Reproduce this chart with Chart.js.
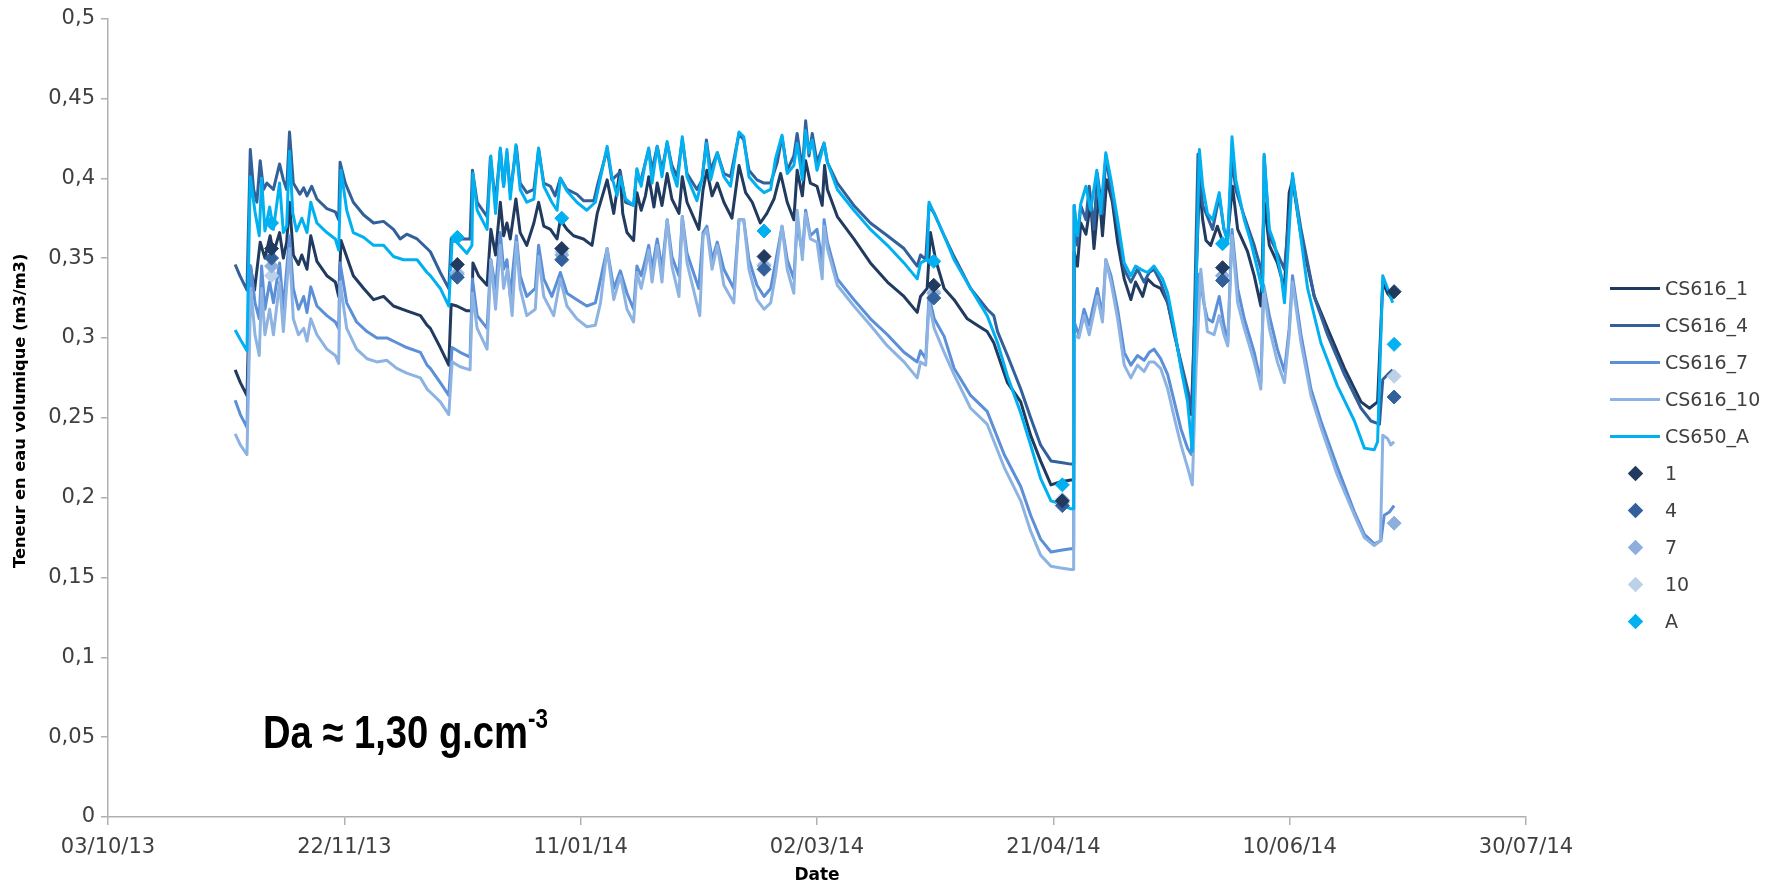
<!DOCTYPE html>
<html lang="fr">
<head>
<meta charset="utf-8">
<title>Teneur en eau volumique</title>
<script src="https://cdn.jsdelivr.net/npm/chart.js@4.4.1/dist/chart.umd.min.js"></script>
<style>
  html, body { margin: 0; padding: 0; background: #ffffff; }
  #wrap { position: relative; width: 1779px; height: 886px; overflow: hidden; }
  #graph { position: absolute; left: 0; top: 0; }
  #legende { position: absolute; left: 1610px; top: 0; width: 169px; height: 886px;
             font-family: 'DejaVu Sans', sans-serif; font-size: 19px; color: #404040; }
  .item { position: absolute; left: 0; height: 24px; display: flex; align-items: center; white-space: nowrap; }
  .sym { position: relative; width: 50px; height: 24px; margin-right: 5px; }
  .trait { position: absolute; left: 0; top: 10.5px; width: 50px; height: 3px; }
  .losange { position: absolute; left: 19.5px; top: 6.5px; width: 11px; height: 11px; transform: rotate(45deg); }
  #da { position: absolute; left: 263px; top: 700px; white-space: nowrap;
        font-family: 'Liberation Sans', sans-serif; font-weight: bold;
        font-size: 46px; line-height: 46px; color: #000000;
        transform: scaleX(0.83); transform-origin: 0 0; }
  #da sup { font-size: 27px; position: relative; top: -4px; }
</style>
</head>
<body>
<div id="wrap">
  <canvas id="graph" width="1779" height="886"></canvas>
  <div id="legende"></div>
  <div id="da">Da ≈ 1,30 g.cm<sup>-3</sup></div>
</div>
<script>
// Axe des temps : jours écoulés depuis le 03/10/13
const dateTicks = ['03/10/13', '22/11/13', '11/01/14', '02/03/14', '21/04/14', '10/06/14', '30/07/14'];
const tickStepDays = 50;

// Sondes en continu : [jour, teneur en eau (m3/m3)]
const cs616_1 = [
  [26.9,0.280],[28.0,0.272],[29.4,0.264],[30.1,0.345],[31.0,0.330],[32.2,0.360],[33.2,0.350],[34.3,0.364],
  [35.0,0.353],[36.3,0.366],[37.1,0.350],[37.8,0.360],[38.4,0.385],[39.2,0.352],[40.3,0.346],[41.0,0.352],
  [42.1,0.343],[42.9,0.364],[44.2,0.348],[46.3,0.339],[48.1,0.335],[48.8,0.326],[49.3,0.361],[51.9,0.339],
  [54.1,0.331],[56.2,0.324],[58.3,0.326],[60.4,0.320],[63.2,0.317],[66.1,0.314],[67.5,0.308],[68.2,0.306],
  [70.3,0.294],[72.1,0.283],[72.6,0.321],[73.8,0.320],[75.9,0.317],[77.0,0.317],[77.2,0.347],[78.4,0.339],
  [80.2,0.333],[81.0,0.368],[82.0,0.352],[83.0,0.385],[83.7,0.364],[84.4,0.372],[85.1,0.362],[86.3,0.387],
  [87.2,0.366],[88.6,0.358],[90.1,0.372],[91.1,0.385],[92.2,0.370],[93.6,0.368],[95.0,0.362],[95.7,0.374],
  [97.1,0.368],[98.5,0.364],[100.6,0.362],[102.4,0.358],[103.5,0.378],[105.6,0.399],[107.0,0.378],[108.3,0.405],
  [108.9,0.378],[109.8,0.366],[111.2,0.361],[111.9,0.391],[112.8,0.380],[113.7,0.389],[114.4,0.401],[115.5,0.382],
  [116.2,0.397],[117.2,0.383],[118.3,0.403],[119.3,0.387],[120.8,0.378],[121.5,0.401],[122.5,0.385],[125.0,0.368],
  [125.9,0.393],[126.7,0.405],[127.8,0.389],[128.9,0.397],[130.3,0.385],[132.0,0.375],[133.5,0.408],[134.9,0.391],
  [136.3,0.385],[138.0,0.372],[139.4,0.378],[140.9,0.387],[142.3,0.403],[143.7,0.385],[145.1,0.374],[145.8,0.405],
  [146.9,0.389],[147.6,0.411],[148.6,0.397],[150.0,0.395],[151.1,0.383],[151.6,0.408],[152.2,0.393],[154.3,0.376],
  [157.8,0.362],[161.3,0.347],[164.9,0.335],[168.4,0.326],[171.2,0.316],[171.9,0.326],[173.3,0.331],[174.0,0.366],
  [175.1,0.349],[176.9,0.331],[179.0,0.324],[181.8,0.312],[183.9,0.308],[186.0,0.304],[187.4,0.297],[190.3,0.272],
  [193.1,0.260],[195.2,0.239],[197.3,0.223],[199.5,0.208],[201.6,0.210],[203.7,0.211],[204.3,0.211],[204.4,0.354],
  [205.1,0.345],[205.8,0.372],[206.9,0.365],[207.9,0.385],[208.6,0.356],[209.7,0.391],[210.4,0.364],[211.3,0.399],
  [212.5,0.385],[213.6,0.360],[215.0,0.337],[216.4,0.324],[217.4,0.335],[218.9,0.326],[219.9,0.337],[221.3,0.333],
  [222.7,0.331],[224.2,0.322],[225.6,0.304],[227.0,0.283],[228.4,0.266],[229.2,0.252],[230.9,0.397],[231.6,0.374],
  [232.3,0.361],[233.3,0.358],[234.7,0.370],[236.1,0.358],[236.9,0.364],[237.9,0.395],[239.0,0.368],[241.1,0.354],
  [242.5,0.339],[243.9,0.320],[244.6,0.385],[245.7,0.358],[247.4,0.347],[248.9,0.331],[249.9,0.391],[250.6,0.399],
  [252.4,0.364],[255.2,0.326],[258.0,0.306],[261.6,0.281],[265.1,0.260],[266.9,0.256],[268.6,0.260],[269.7,0.335],
  [270.7,0.328],[271.8,0.324]
];

const cs616_4 = [
  [26.9,0.346],[27.9,0.339],[29.4,0.330],[30.1,0.418],[30.8,0.393],[31.5,0.385],[32.2,0.411],[32.9,0.393],
  [33.6,0.397],[35.0,0.393],[36.3,0.409],[37.1,0.399],[37.8,0.393],[38.4,0.429],[39.2,0.397],[40.6,0.390],
  [41.4,0.394],[42.1,0.389],[43.1,0.395],[44.2,0.387],[46.3,0.381],[48.1,0.379],[48.8,0.374],[49.1,0.410],
  [50.2,0.397],[51.9,0.385],[54.1,0.377],[56.2,0.372],[58.3,0.373],[60.4,0.368],[61.8,0.362],[63.2,0.365],
  [65.4,0.362],[67.5,0.356],[68.2,0.354],[70.3,0.341],[72.1,0.331],[72.6,0.362],[74.5,0.362],[76.6,0.362],
  [77.1,0.405],[78.1,0.385],[80.2,0.376],[80.9,0.413],[82.0,0.385],[83.0,0.418],[83.7,0.395],[84.4,0.416],
  [85.1,0.391],[86.4,0.420],[87.2,0.397],[88.6,0.391],[90.1,0.393],[91.1,0.418],[92.2,0.397],[93.6,0.395],
  [94.6,0.389],[95.7,0.400],[97.1,0.393],[99.2,0.390],[100.6,0.386],[102.8,0.386],[103.5,0.395],[105.6,0.418],
  [106.6,0.399],[108.4,0.404],[109.5,0.385],[111.2,0.383],[111.9,0.405],[112.6,0.397],[113.7,0.410],[114.4,0.418],
  [115.1,0.405],[116.2,0.420],[117.2,0.405],[118.3,0.422],[119.3,0.408],[120.4,0.401],[121.5,0.424],[122.5,0.403],
  [124.6,0.393],[125.7,0.399],[126.6,0.424],[127.5,0.405],[128.9,0.416],[130.3,0.403],[131.7,0.401],[133.5,0.428],
  [134.5,0.424],[135.6,0.405],[137.3,0.399],[138.8,0.397],[140.2,0.397],[141.6,0.410],[142.6,0.426],[143.7,0.405],
  [145.1,0.414],[145.8,0.428],[146.9,0.405],[147.6,0.436],[148.3,0.414],[149.0,0.428],[150.0,0.410],[151.5,0.422],
  [152.2,0.410],[154.3,0.397],[157.8,0.383],[161.3,0.372],[164.9,0.364],[168.4,0.356],[171.2,0.345],[171.9,0.352],
  [173.0,0.349],[173.7,0.383],[174.8,0.378],[176.9,0.364],[179.0,0.351],[182.5,0.331],[186.0,0.318],[187.4,0.314],
  [188.2,0.304],[190.3,0.289],[193.1,0.268],[195.2,0.250],[197.3,0.233],[199.5,0.223],[201.6,0.222],[203.7,0.221],
  [204.3,0.221],[204.4,0.383],[205.1,0.358],[205.8,0.383],[206.9,0.374],[207.6,0.395],[208.6,0.368],[209.3,0.403],
  [210.4,0.378],[211.1,0.414],[212.2,0.393],[213.6,0.370],[215.0,0.343],[216.4,0.335],[217.8,0.343],[219.2,0.335],
  [220.3,0.341],[221.3,0.343],[222.7,0.335],[224.2,0.322],[225.6,0.302],[227.0,0.285],[228.4,0.268],[229.4,0.254],
  [230.6,0.415],[231.6,0.383],[232.6,0.376],[233.7,0.368],[235.1,0.389],[236.1,0.368],[236.9,0.362],[237.8,0.412],
  [238.6,0.393],[240.4,0.376],[242.5,0.358],[244.3,0.339],[244.6,0.414],[245.7,0.364],[247.4,0.353],[248.9,0.343],
  [249.6,0.368],[250.6,0.401],[252.4,0.368],[255.2,0.326],[258.0,0.302],[261.6,0.277],[265.1,0.256],[267.2,0.248],
  [269.0,0.246],[269.7,0.274],[270.7,0.277],[271.8,0.280]
];

const cs616_7 = [
  [26.9,0.261],[28.0,0.252],[29.4,0.244],[30.2,0.345],[31.1,0.322],[32.0,0.312],[32.5,0.345],[33.2,0.318],
  [34.2,0.335],[35.0,0.322],[36.3,0.347],[37.1,0.318],[38.4,0.364],[39.2,0.331],[40.3,0.318],[41.4,0.326],
  [42.1,0.316],[42.9,0.332],[44.2,0.320],[46.3,0.314],[48.1,0.310],[48.8,0.306],[49.1,0.347],[50.5,0.322],
  [52.6,0.310],[54.8,0.304],[56.9,0.300],[59.0,0.300],[61.1,0.297],[63.2,0.294],[66.1,0.291],[67.5,0.283],
  [68.2,0.281],[70.3,0.272],[72.1,0.264],[72.8,0.294],[74.5,0.291],[76.6,0.288],[77.1,0.337],[78.1,0.314],
  [80.2,0.306],[81.0,0.349],[82.0,0.331],[83.0,0.366],[83.7,0.343],[84.4,0.349],[85.1,0.326],[86.4,0.364],
  [87.2,0.339],[88.6,0.326],[90.4,0.331],[91.1,0.358],[92.2,0.337],[93.9,0.326],[95.7,0.341],[97.1,0.328],
  [99.2,0.324],[101.3,0.320],[103.1,0.322],[103.8,0.331],[105.6,0.356],[107.0,0.331],[108.4,0.342],[109.8,0.328],
  [111.2,0.318],[111.9,0.345],[112.8,0.339],[113.7,0.349],[114.4,0.358],[115.1,0.343],[116.2,0.362],[117.2,0.343],
  [118.3,0.374],[119.3,0.351],[120.8,0.339],[121.5,0.376],[122.5,0.353],[125.0,0.331],[125.9,0.366],[126.7,0.370],
  [127.8,0.349],[128.9,0.360],[130.3,0.343],[132.4,0.331],[133.5,0.374],[134.5,0.374],[135.6,0.349],[137.3,0.333],
  [138.8,0.326],[140.2,0.331],[141.2,0.347],[142.6,0.370],[143.7,0.349],[145.1,0.337],[145.8,0.372],[146.9,0.353],
  [147.6,0.380],[148.6,0.364],[150.0,0.368],[151.1,0.347],[151.5,0.374],[152.2,0.360],[154.3,0.337],[157.8,0.324],
  [161.3,0.312],[164.9,0.302],[168.4,0.291],[171.2,0.285],[171.9,0.292],[173.0,0.287],[173.7,0.326],[174.8,0.312],
  [176.9,0.301],[179.0,0.281],[182.5,0.264],[186.0,0.254],[189.6,0.227],[193.1,0.207],[195.2,0.189],[197.3,0.174],
  [199.5,0.166],[201.6,0.167],[203.7,0.168],[204.3,0.168],[204.4,0.310],[205.4,0.302],[206.5,0.318],[207.6,0.308],
  [208.3,0.318],[209.3,0.331],[210.4,0.314],[211.1,0.349],[212.2,0.339],[213.6,0.318],[215.0,0.291],[216.4,0.283],
  [217.8,0.289],[219.2,0.286],[220.3,0.291],[221.3,0.293],[222.7,0.287],[224.2,0.277],[225.6,0.260],[227.0,0.243],
  [228.4,0.231],[229.2,0.227],[230.2,0.300],[230.9,0.340],[231.9,0.321],[232.6,0.312],[233.7,0.310],[235.1,0.326],
  [236.1,0.308],[236.9,0.297],[237.8,0.368],[239.0,0.331],[240.4,0.312],[242.5,0.291],[243.9,0.272],[244.5,0.333],
  [245.7,0.314],[247.4,0.293],[248.9,0.279],[249.9,0.306],[250.6,0.339],[252.4,0.302],[254.5,0.268],[256.6,0.248],
  [260.1,0.219],[263.7,0.191],[265.8,0.177],[267.9,0.171],[269.3,0.173],[270.0,0.189],[271.1,0.191],[272.1,0.195]
];

const cs616_10 = [
  [26.9,0.240],[28.0,0.233],[29.4,0.227],[30.2,0.331],[31.1,0.302],[32.0,0.289],[32.5,0.331],[33.2,0.302],
  [34.2,0.318],[35.0,0.302],[36.3,0.335],[37.1,0.304],[38.4,0.356],[39.2,0.312],[40.3,0.302],[41.4,0.306],
  [42.1,0.298],[42.9,0.312],[44.2,0.302],[46.3,0.293],[48.1,0.289],[48.8,0.284],[49.1,0.335],[50.5,0.306],
  [52.6,0.293],[54.8,0.287],[56.9,0.285],[59.0,0.286],[61.1,0.281],[63.2,0.278],[66.1,0.275],[67.5,0.268],
  [68.2,0.266],[70.3,0.260],[72.1,0.252],[72.8,0.285],[74.5,0.282],[76.6,0.280],[77.1,0.328],[78.1,0.306],
  [80.2,0.293],[81.0,0.349],[82.0,0.318],[83.0,0.358],[83.7,0.331],[84.5,0.343],[85.5,0.314],[86.4,0.360],
  [87.2,0.331],[88.6,0.314],[90.4,0.318],[91.1,0.351],[92.2,0.326],[94.3,0.314],[95.7,0.337],[97.1,0.320],
  [99.2,0.312],[101.3,0.307],[103.1,0.308],[104.2,0.322],[105.6,0.356],[107.0,0.324],[108.4,0.339],[109.8,0.318],
  [111.2,0.310],[111.9,0.341],[112.8,0.331],[113.7,0.343],[114.4,0.355],[115.1,0.335],[116.2,0.358],[117.2,0.335],
  [118.3,0.374],[119.3,0.345],[120.8,0.326],[121.5,0.376],[122.5,0.347],[125.2,0.314],[125.9,0.364],[126.7,0.368],
  [127.8,0.343],[128.9,0.358],[130.3,0.333],[132.4,0.322],[133.5,0.374],[134.5,0.374],[135.6,0.343],[137.3,0.324],
  [138.8,0.318],[140.2,0.322],[141.2,0.339],[142.6,0.370],[143.7,0.343],[145.1,0.328],[145.8,0.380],[146.9,0.349],
  [147.6,0.378],[148.6,0.362],[150.0,0.360],[151.1,0.337],[151.5,0.370],[152.2,0.356],[154.3,0.333],[157.8,0.320],
  [161.3,0.308],[164.9,0.295],[168.4,0.285],[171.2,0.275],[171.9,0.285],[173.0,0.283],[173.7,0.322],[174.8,0.306],
  [176.9,0.291],[179.0,0.277],[182.5,0.256],[186.0,0.246],[189.6,0.219],[193.1,0.198],[195.2,0.179],[197.3,0.164],
  [199.5,0.157],[201.6,0.156],[203.7,0.155],[204.3,0.155],[204.4,0.302],[205.4,0.300],[206.5,0.314],[207.6,0.302],
  [208.3,0.312],[209.3,0.326],[210.4,0.310],[211.1,0.349],[212.2,0.335],[213.6,0.312],[215.0,0.283],[216.4,0.275],
  [217.8,0.283],[219.2,0.279],[220.3,0.285],[221.3,0.285],[222.7,0.281],[224.2,0.268],[225.6,0.250],[227.0,0.233],
  [228.4,0.219],[229.4,0.208],[230.2,0.280],[231.2,0.343],[231.9,0.322],[232.6,0.304],[234.0,0.302],[235.1,0.314],
  [236.1,0.302],[236.9,0.295],[237.8,0.364],[239.0,0.322],[240.4,0.306],[242.5,0.285],[243.9,0.268],[244.5,0.331],
  [245.7,0.306],[247.4,0.285],[248.9,0.272],[249.9,0.302],[250.6,0.335],[252.4,0.297],[254.5,0.264],[256.6,0.244],
  [260.1,0.214],[263.7,0.189],[265.8,0.175],[267.9,0.170],[269.2,0.173],[269.7,0.239],[270.7,0.237],[271.4,0.233],
  [272.1,0.235]
];

const cs650_A = [
  [26.9,0.305],[28.0,0.299],[29.4,0.292],[30.1,0.401],[31.1,0.379],[32.0,0.364],[32.5,0.400],[33.2,0.367],
  [34.2,0.382],[35.0,0.368],[36.3,0.397],[37.1,0.366],[37.8,0.370],[38.4,0.417],[39.1,0.378],[39.9,0.367],
  [41.0,0.375],[42.1,0.366],[42.9,0.385],[44.2,0.372],[46.3,0.366],[48.1,0.362],[48.8,0.355],[49.3,0.405],
  [50.5,0.380],[51.9,0.366],[54.1,0.363],[56.2,0.358],[58.3,0.358],[60.4,0.351],[62.5,0.349],[65.4,0.349],
  [67.5,0.341],[68.2,0.339],[70.3,0.331],[72.1,0.320],[72.8,0.361],[73.8,0.360],[75.9,0.353],[77.0,0.358],
  [77.2,0.403],[78.1,0.380],[80.2,0.368],[81.0,0.414],[82.0,0.378],[83.0,0.419],[83.7,0.395],[84.4,0.418],
  [85.1,0.387],[86.3,0.421],[87.2,0.393],[88.6,0.385],[90.1,0.387],[91.1,0.419],[92.2,0.395],[93.9,0.385],
  [95.0,0.380],[95.7,0.400],[97.1,0.392],[99.2,0.385],[101.3,0.380],[103.1,0.385],[105.6,0.420],[106.6,0.401],
  [107.7,0.389],[108.4,0.401],[109.5,0.387],[111.2,0.383],[111.9,0.406],[112.8,0.395],[113.7,0.410],[114.4,0.419],
  [115.1,0.397],[116.2,0.420],[117.2,0.401],[118.3,0.423],[119.3,0.405],[120.4,0.395],[121.5,0.426],[122.5,0.401],
  [124.6,0.386],[125.7,0.400],[126.6,0.422],[127.5,0.399],[128.9,0.416],[130.3,0.401],[131.7,0.395],[133.5,0.429],
  [134.5,0.426],[135.6,0.401],[137.3,0.395],[138.8,0.391],[140.2,0.393],[141.2,0.412],[142.6,0.427],[143.7,0.403],
  [145.1,0.408],[145.8,0.422],[146.9,0.399],[147.6,0.430],[148.3,0.416],[149.0,0.424],[150.0,0.405],[151.5,0.422],
  [152.2,0.410],[154.3,0.393],[157.8,0.380],[161.3,0.368],[164.9,0.358],[168.4,0.347],[171.2,0.337],[171.9,0.347],
  [173.3,0.349],[173.7,0.385],[174.8,0.378],[176.9,0.364],[179.0,0.349],[182.5,0.331],[186.0,0.314],[188.2,0.297],
  [190.3,0.276],[193.1,0.253],[195.2,0.233],[197.3,0.212],[199.5,0.198],[201.6,0.196],[203.7,0.193],[204.3,0.193],
  [204.4,0.383],[205.1,0.364],[205.8,0.384],[206.9,0.395],[207.9,0.380],[209.2,0.405],[210.0,0.378],[211.1,0.416],
  [212.2,0.399],[213.6,0.374],[215.0,0.347],[216.4,0.339],[217.4,0.345],[218.5,0.343],[219.9,0.341],[221.3,0.345],
  [223.1,0.337],[224.2,0.328],[225.6,0.306],[227.0,0.281],[228.4,0.260],[229.4,0.229],[230.9,0.418],[231.6,0.395],
  [232.6,0.378],[233.7,0.374],[235.1,0.391],[236.1,0.368],[236.9,0.360],[237.8,0.426],[238.6,0.399],[240.4,0.374],
  [241.8,0.360],[243.2,0.343],[244.3,0.329],[244.6,0.415],[245.7,0.368],[246.7,0.360],[248.2,0.339],[248.9,0.322],
  [249.6,0.353],[250.6,0.403],[251.7,0.378],[253.8,0.331],[256.6,0.297],[260.1,0.270],[263.7,0.248],[265.8,0.231],
  [267.9,0.230],[268.6,0.235],[269.7,0.339],[270.7,0.331],[271.8,0.322]
];

// Mesures ponctuelles (jour de prélèvement et teneurs en eau)
const mesureJours = [34.6, 73.9, 96.0, 138.8, 174.7, 201.9, 235.8, 272.1];
const mesure_1  = [0.356, 0.346, 0.356, 0.351, 0.333, 0.198, 0.344, 0.329];
const mesure_4  = [0.350, 0.338, 0.349, 0.343, 0.325, 0.195, 0.336, 0.263];
const mesure_7  = [0.345, 0.340, 0.352, 0.345, 0.328, 0.197, 0.339, 0.184];
const mesure_10 = [0.339, 0.341, 0.354, 0.346, 0.329, 0.199, 0.339, 0.276];
const mesure_A  = [0.372, 0.363, 0.375, 0.367, 0.348, 0.208, 0.359, 0.296];

const toXY = (pairs) => pairs.map(([x, y]) => ({ x, y }));
const pointsMesure = (vals) => vals.map((y, i) => ({ x: mesureJours[i], y }));

const lignes = [
  { label: 'CS616_1',  data: cs616_1,  color: '#203a60', order: 5 },
  { label: 'CS616_4',  data: cs616_4,  color: '#32609a', order: 4 },
  { label: 'CS616_7',  data: cs616_7,  color: '#5b8fd8', order: 3 },
  { label: 'CS616_10', data: cs616_10, color: '#8db3e3', order: 2 },
  { label: 'CS650_A',  data: cs650_A,  color: '#00b0f0', order: 1 }
];
const mesures = [
  { label: '1',  data: mesure_1,  color: '#203a60' },
  { label: '4',  data: mesure_4,  color: '#32609a' },
  { label: '7',  data: mesure_7,  color: '#8eaedb' },
  { label: '10', data: mesure_10, color: '#bcd0ea' },
  { label: 'A',  data: mesure_A,  color: '#00b0f0' }
];

const datasets = [
  ...lignes.map(s => ({
    type: 'line', label: s.label, data: toXY(s.data), order: s.order,
    borderColor: s.color, backgroundColor: s.color, borderWidth: 3,
    pointRadius: 0, tension: 0, fill: false, borderJoinStyle: 'round'
  })),
  ...mesures.map(s => ({
    type: 'scatter', label: s.label, data: pointsMesure(s.data), order: 0,
    pointStyle: 'rectRot', pointRadius: 7, borderWidth: 1,
    borderColor: s.color, backgroundColor: s.color, showLine: false
  }))
];

const axisGrey = '#b0b0b0';
const tickFont = { family: "'DejaVu Sans', sans-serif", size: 21 };
const titleFont = { family: "'DejaVu Sans', sans-serif", size: 17, weight: 'bold' };
const yTitle = 'Teneur en eau volumique (m3/m3)';

// Titre de l'axe vertical, tracé à gauche des graduations
const titreAxeY = {
  id: 'titreAxeY',
  afterDraw(chart) {
    const { ctx, chartArea } = chart;
    ctx.save();
    ctx.translate(21, (chartArea.top + chartArea.bottom) / 2 - 7);
    ctx.rotate(-Math.PI / 2);
    ctx.font = "bold 16.3px 'DejaVu Sans', sans-serif";
    ctx.fillStyle = '#000000';
    ctx.textAlign = 'center';
    ctx.textBaseline = 'middle';
    ctx.fillText(yTitle, 0, 0);
    ctx.restore();
  }
};

new Chart(document.getElementById('graph'), {
  type: 'scatter',
  data: { datasets },
  plugins: [titreAxeY],
  options: {
    responsive: false,
    animation: false,
    devicePixelRatio: 1,
    layout: { padding: { left: 0, top: 16, right: 253, bottom: 0 } },
    plugins: { legend: { display: false }, tooltip: { enabled: false } },
    scales: {
      x: {
        type: 'linear', min: 0, max: tickStepDays * (dateTicks.length - 1),
        afterFit: (s) => { s.height = 69; },
        border: { display: true, color: axisGrey, width: 1.5 },
        grid: { display: true, drawOnChartArea: false, drawTicks: true, tickLength: 8, color: axisGrey, lineWidth: 1.5 },
        ticks: {
          stepSize: tickStepDays, autoSkip: false, maxRotation: 0, padding: 10,
          color: '#404040', font: tickFont,
          callback: (v) => dateTicks[Math.round(v / tickStepDays)]
        },
        title: { display: true, text: 'Date', color: '#000000', font: titleFont, padding: { top: 0, bottom: 0 } }
      },
      y: {
        min: 0, max: 0.5,
        afterFit: (s) => { s.width = 108; },
        border: { display: true, color: axisGrey, width: 1.5 },
        grid: { display: true, drawOnChartArea: false, drawTicks: true, tickLength: 7, color: axisGrey, lineWidth: 1.5 },
        ticks: {
          stepSize: 0.05, padding: 6, color: '#404040', font: tickFont,
          callback: (v) => String(Number(v.toFixed(2))).replace('.', ',')
        },
        title: { display: false }
      }
    }
  }
});

// Légende à droite du graphique
const legende = document.getElementById('legende');
const entrees = [
  ...lignes.map(s => ({ label: s.label, color: s.color, kind: 'trait' })),
  ...mesures.map(s => ({ label: s.label, color: s.color, kind: 'losange' }))
];
entrees.forEach((e, i) => {
  const item = document.createElement('div');
  item.className = 'item';
  item.style.top = (288 + i * 37 - 12) + 'px';
  const sym = document.createElement('div');
  sym.className = 'sym';
  const mark = document.createElement('div');
  mark.className = e.kind;
  mark.style.background = e.color;
  sym.appendChild(mark);
  const txt = document.createElement('span');
  txt.textContent = e.label;
  item.appendChild(sym);
  item.appendChild(txt);
  legende.appendChild(item);
});
</script>
</body>
</html>
